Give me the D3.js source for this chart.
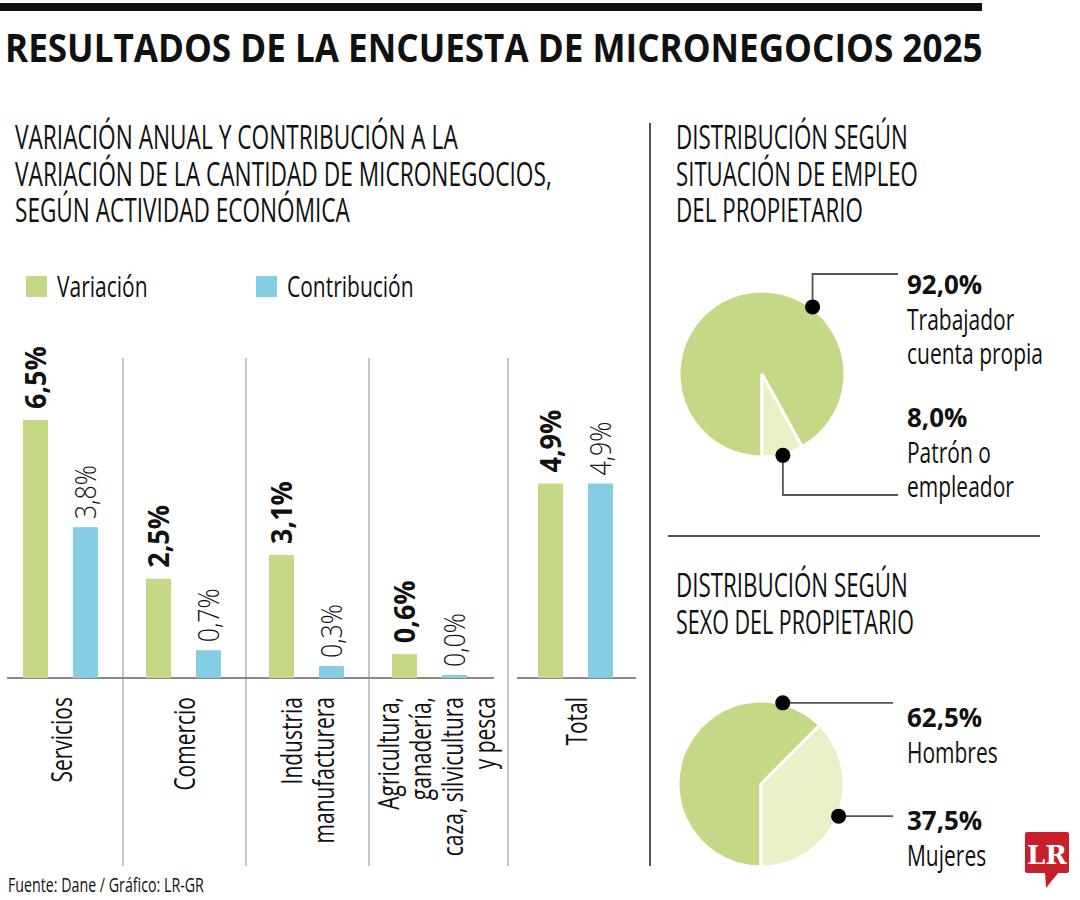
<!DOCTYPE html>
<html>
<head>
<meta charset="utf-8">
<script src="https://cdn.jsdelivr.net/npm/d3@7"></script>
<style>
  body { margin: 0; background: #fff; }
  svg { display: block; }
  text { font-family: "Open Sans", "Noto Sans", sans-serif; fill: #111; }
</style>
</head>
<body>
<svg id="chart" width="1080" height="900"></svg>
<script>
var CATEGORIES = ["Servicios", "Comercio", "Industria manufacturera", "Agricultura, ganadería, caza, silvicultura y pesca", "Total"];
var CATEGORY_LINES = [["Servicios"], ["Comercio"], ["Industria", "manufacturera"], ["Agricultura,", "ganadería,", "caza, silvicultura", "y pesca"], ["Total"]];
var SERIES = ["Variación", "Contribución"];
var VARIACION = [6.5, 2.5, 3.1, 0.6, 4.9];
var CONTRIBUCION = [3.8, 0.7, 0.3, 0.0, 4.9];

var EMPLEO_LABELS = [["Trabajador", "cuenta propia"], ["Patrón o", "empleador"]];
var EMPLEO_VALUES = [92.0, 8.0];
var SEXO_LABELS = [["Hombres"], ["Mujeres"]];
var SEXO_VALUES = [62.5, 37.5];

var GREEN = "#c5d886", BLUE = "#86cde3", LIGHT = "#e9f0c5", RULE = "#555", SEP = "#b5b5b5";
var REG_K = 0.7;   // squeeze factor, the original uses a condensed face

var svg = d3.select("#chart");
var fmt = v => d3.format(".1f")(v).replace(".", ",") + "%";

// text placed with a transform so it can be squeezed horizontally
function txt(parent, str, base, size, weight) {
	return parent.append("text").attr("data-base", base).attr("transform", base)
		.attr("font-size", size).attr("font-weight", weight || 400).text(str);
}
function squeeze(sel, k) {
	sel.each(function() {
		var s = d3.select(this);
		s.attr("transform", s.attr("data-base") + " scale(" + k + ",1)");
	});
	return sel;
}
function fit(sel, w) {
	sel.each(function() {
		squeeze(d3.select(this), w / this.getComputedTextLength());
	});
	return sel;
}
var tr = (x, y) => "translate(" + x + "," + y + ")";

// header
svg.append("rect").attr("x", 0).attr("y", 3).attr("width", 982).attr("height", 8).attr("fill", "#111");
fit(txt(svg, "RESULTADOS DE LA ENCUESTA DE MICRONEGOCIOS 2025", tr(5, 62), 40, 700), 978);

function heading(lines, x, y0) {
	lines.forEach( (l, i) => {
		fit(txt(svg, l[0], tr(x, y0 + i * 36.5), 32), l[1]);
	});
}
heading([["VARIACIÓN ANUAL Y CONTRIBUCIÓN A LA", 443], ["VARIACIÓN DE LA CANTIDAD DE MICRONEGOCIOS,", 537], ["SEGÚN ACTIVIDAD ECONÓMICA", 335]], 15, 149);
heading([["DISTRIBUCIÓN SEGÚN", 232], ["SITUACIÓN DE EMPLEO", 242], ["DEL PROPIETARIO", 187]], 676, 149);
heading([["DISTRIBUCIÓN SEGÚN", 232], ["SEXO DEL PROPIETARIO", 238]], 676, 597);

// dividers
svg.append("line").attr("x1", 650).attr("x2", 650).attr("y1", 123).attr("y2", 866).attr("stroke", RULE).attr("stroke-width", 2);
svg.append("line").attr("x1", 668).attr("x2", 1040).attr("y1", 536).attr("y2", 536).attr("stroke", RULE).attr("stroke-width", 2);

// legend
var legend = svg.append("g").selectAll("g").data(SERIES).enter().append("g")
	.attr("transform", (d, i) => tr(26 + i * 230, 276));
legend.append("rect").attr("width", 21).attr("height", 21).attr("fill", (d, i) => i ? BLUE : GREEN);
legend.each(function(d) { squeeze(txt(d3.select(this), d, tr(31, 21), 30), REG_K); });

// bar chart
var BASE = 678;
var y = d3.scaleLinear().domain([0, d3.max(VARIACION)]).range([BASE, 420]);
var x0 = d3.scaleOrdinal().domain(CATEGORIES).range([0, 123, 246, 369, 515]);
var x1 = d3.scaleBand().domain(SERIES).range([23, 98]).paddingInner(0.5);

var rows = CATEGORIES.map( (c, i) => ({ cat: c, lines: CATEGORY_LINES[i], vals: [VARIACION[i], CONTRIBUCION[i]] }) );

// separators between groups
var seps = CATEGORIES.slice(1).map( (c, i) => i < 3 ? x0(c) : x0(c) - 7 );
svg.append("g").selectAll("line").data(seps).enter().append("line")
	.attr("x1", d => d).attr("x2", d => d).attr("y1", 358).attr("y2", 866)
	.attr("stroke", SEP).attr("stroke-width", 1.5);

// baseline, split before the total
svg.append("line").attr("x1", 7).attr("x2", x0(CATEGORIES[3]) + 125).attr("y1", BASE).attr("y2", BASE).attr("stroke", "#888").attr("stroke-width", 2);
svg.append("line").attr("x1", x0("Total") + 2).attr("x2", x0("Total") + 121).attr("y1", BASE).attr("y2", BASE).attr("stroke", "#888").attr("stroke-width", 2);

var groups = svg.append("g").selectAll("g").data(rows).enter().append("g")
	.attr("transform", d => tr(x0(d.cat), 0));

var bars = groups.selectAll("g.bar").data(d => d.vals.map( (v, i) => ({ s: SERIES[i], v: v }) ))
	.enter().append("g").attr("class", "bar");

bars.append("rect")
	.attr("x", d => x1(d.s)).attr("width", x1.bandwidth())
	.attr("y", d => Math.min(y(d.v), BASE - 3)).attr("height", d => Math.max(BASE - y(d.v), 3))
	.attr("fill", d => d.s === SERIES[0] ? GREEN : BLUE);

bars.each(function(d) {
	var bold = d.s === SERIES[0];
	var top = Math.min(y(d.v), BASE - 3) - (bold ? 11 : 8);
	var t = txt(d3.select(this), fmt(d.v), tr(x1(d.s) + x1.bandwidth() / 2, top) + " rotate(-90)", 29, bold ? 700 : 300)
		.attr("dy", "0.36em");
	squeeze(t, bold ? 0.93 : 0.86);
});

// category labels, vertical
groups.each(function(d) {
	var g = d3.select(this), n = d.lines.length, cx = 60.5;
	d.lines.forEach( (l, j) => {
		var bx = cx + 11 + (j - (n - 1) / 2) * 32 + (n > 2 ? 6 : 0);
		squeeze(txt(g, l, tr(bx, 697) + " rotate(-90)", 30).attr("text-anchor", "end"), REG_K);
	});
});

// pies
var R = 83;
var pie = d3.pie().sort(null).startAngle(Math.PI).endAngle(3 * Math.PI);
var arc = d3.arc().innerRadius(0).outerRadius(R);
var pt = (cx, cy, a, r) => [cx + r * Math.sin(a), cy - r * Math.cos(a)];

function drawPie(cx, cy, values, labels, greenAngle, leaders) {
	var g = svg.append("g").attr("transform", tr(cx, cy));
	var arcs = pie(values);
	g.selectAll("path").data(arcs).enter().append("path")
		.attr("d", arc).attr("fill", (d, i) => i ? LIGHT : GREEN)
		.attr("stroke", "#fff").attr("stroke-width", 3).attr("stroke-linejoin", "miter");

	arcs.forEach( (a, i) => {
		var ang = i === 0 ? greenAngle : (a.startAngle + a.endAngle) / 2;
		var p = pt(cx, cy, ang, R + 1);
		var L = leaders[i];
		var path = L.bendY == null
			? [[p[0], p[1]], [L.toX, p[1]]]
			: [[p[0], p[1]], [p[0], L.bendY], [L.toX, L.bendY]];
		svg.append("path").attr("d", d3.line()(path)).attr("fill", "none").attr("stroke", RULE).attr("stroke-width", 1.8);
		svg.append("circle").attr("cx", p[0]).attr("cy", p[1]).attr("r", 7.5).attr("fill", "#000");

		var t = svg.append("g").attr("transform", tr(907, L.textY));
		squeeze(txt(t, fmt(values[i]), tr(0, 0), 27, 700), 0.96);
		labels[i].forEach( (l, j) => {
			squeeze(txt(t, l, tr(0, 36 + j * 34), 30), REG_K);
		});
	});
}

drawPie(762, 374, EMPLEO_VALUES, EMPLEO_LABELS, 37 * Math.PI / 180,
	[{ bendY: 274, toX: 898, textY: 294 }, { bendY: 495, toX: 898, textY: 427 }]);
drawPie(761, 784, SEXO_VALUES, SEXO_LABELS, 15 * Math.PI / 180,
	[{ toX: 893, textY: 727 }, { toX: 893, textY: 830 }]);

// footer
fit(txt(svg, "Fuente: Dane / Gráfico: LR-GR", tr(8, 892), 20), 196);

// LR logo
var logo = svg.append("g").attr("transform", tr(1025, 832));
logo.append("rect").attr("width", 44).attr("height", 41).attr("rx", 2).attr("fill", "#c8202b");
logo.append("path").attr("d", "M20,40 L34,40 L21,56 Z").attr("fill", "#c8202b");
logo.append("text").attr("x", 22).attr("y", 32).attr("text-anchor", "middle")
	.style("font-family", "'DejaVu Serif', 'Liberation Serif', serif").attr("font-weight", 700)
	.attr("font-size", 26).style("fill", "#fff").text("LR");
</script>
</body>
</html>
